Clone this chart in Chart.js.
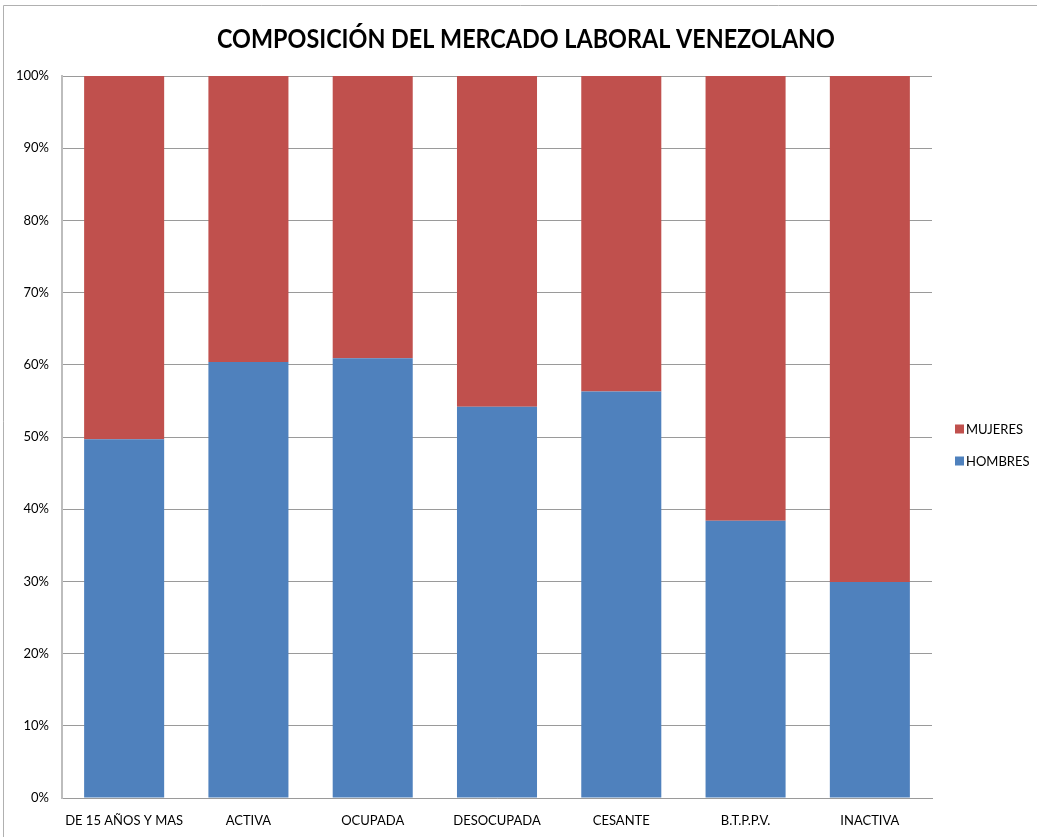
<!DOCTYPE html>
<html>
<head>
<meta charset="utf-8">
<script src="https://cdn.jsdelivr.net/npm/chart.js@4/dist/chart.umd.min.js"></script>
<style>
html,body{margin:0;padding:0;background:#fff;}
#wrap{position:relative;width:1037px;height:837px;}
</style>
</head>
<body>
<div id="wrap"><canvas id="c" width="1037" height="837"></canvas></div>
<script>
const title = "COMPOSICIÓN DEL MERCADO LABORAL VENEZOLANO";
const categories = ["DE 15 AÑOS Y MAS", "ACTIVA", "OCUPADA", "DESOCUPADA", "CESANTE", "B.T.P.P.V.", "INACTIVA"];
const hombres = [49.7, 60.4, 60.9, 54.2, 56.3, 38.4, 29.9];
const mujeres = [50.3, 39.6, 39.1, 45.8, 43.7, 61.6, 70.1];
const yTicks = [0, 10, 20, 30, 40, 50, 60, 70, 80, 90, 100];

const FONT = "Lato, 'Open Sans', sans-serif";
const RED = "#C0504D", BLUE = "#4F81BD";

const decor = {
  id: 'decor',
  beforeDraw(chart) {
    const ctx = chart.ctx;
    ctx.save();
    ctx.fillStyle = '#fff';
    ctx.fillRect(0, 0, chart.width, chart.height);
    ctx.strokeStyle = '#B0B0B0';
    ctx.lineWidth = 1;
    ctx.beginPath();
    ctx.moveTo(3.5, 837); ctx.lineTo(3.5, 5.5); ctx.lineTo(1037, 5.5);
    ctx.stroke();
    ctx.restore();
  },
  afterDraw(chart) {
    const ctx = chart.ctx;
    ctx.save();
    // title: fit width to 618 px, cap height to ~19 px
    let size = 28;
    ctx.font = "bold " + size + "px " + FONT;
    const w = ctx.measureText(title).width;
    size = size * 618 / w;
    ctx.font = "bold " + size.toFixed(2) + "px " + FONT;
    const cap = ctx.measureText("C").actualBoundingBoxAscent || size * 0.72;
    const sy = Math.min(1.4, Math.max(1, 19.5 / cap));
    ctx.fillStyle = '#000';
    ctx.textAlign = 'center';
    ctx.textBaseline = 'alphabetic';
    ctx.translate(526, 48);
    ctx.scale(1, sy);
    ctx.fillText(title, 0, 0);
    ctx.restore();
    // legend (reverse order)
    ctx.save();
    ctx.font = "13px " + FONT;
    ctx.textAlign = 'left';
    ctx.textBaseline = 'middle';
    const ds = chart.data.datasets.slice().reverse();
    ds.forEach((d, i) => {
      const y = 429 + i * 32;
      ctx.fillStyle = d.backgroundColor;
      ctx.fillRect(955, y - 4.5, 9, 9);
      ctx.fillStyle = '#000';
      ctx.fillText(d.label, 966, y + 0.5);
    });
    ctx.restore();
  }
};

new Chart(document.getElementById('c'), {
  type: 'bar',
  data: {
    labels: categories,
    datasets: [
      { label: 'HOMBRES', data: hombres, backgroundColor: BLUE, borderWidth: 0,
        barPercentage: 0.644, categoryPercentage: 1.0 },
      { label: 'MUJERES', data: mujeres, backgroundColor: RED, borderWidth: 0,
        barPercentage: 0.644, categoryPercentage: 1.0 }
    ]
  },
  options: {
    responsive: false,
    animation: false,
    layout: { padding: { top: 76, right: 105, left: 0, bottom: 0 } },
    plugins: { legend: { display: false }, title: { display: false }, tooltip: { enabled: false } },
    scales: {
      x: {
        stacked: true,
        grid: { display: false, drawTicks: false },
        border: { color: '#9A9A9A', width: 1 },
        ticks: { color: '#000', padding: 15, font: { family: FONT, size: 13 }, maxRotation: 0, autoSkip: false },
        afterFit: s => { s.height = 39; }
      },
      y: {
        stacked: true,
        min: 0, max: 100,
        afterBuildTicks: s => { s.ticks = yTicks.map(v => ({ value: v })); },
        grid: { color: '#9A9A9A', lineWidth: 1, drawTicks: false },
        border: { color: '#BDBDBD', width: 2 },
        ticks: { color: '#000', padding: 13, font: { family: FONT, size: 13 }, callback: v => v + '%' },
        afterFit: s => { s.width = 62; }
      }
    }
  },
  plugins: [decor]
});
</script>
</body>
</html>
